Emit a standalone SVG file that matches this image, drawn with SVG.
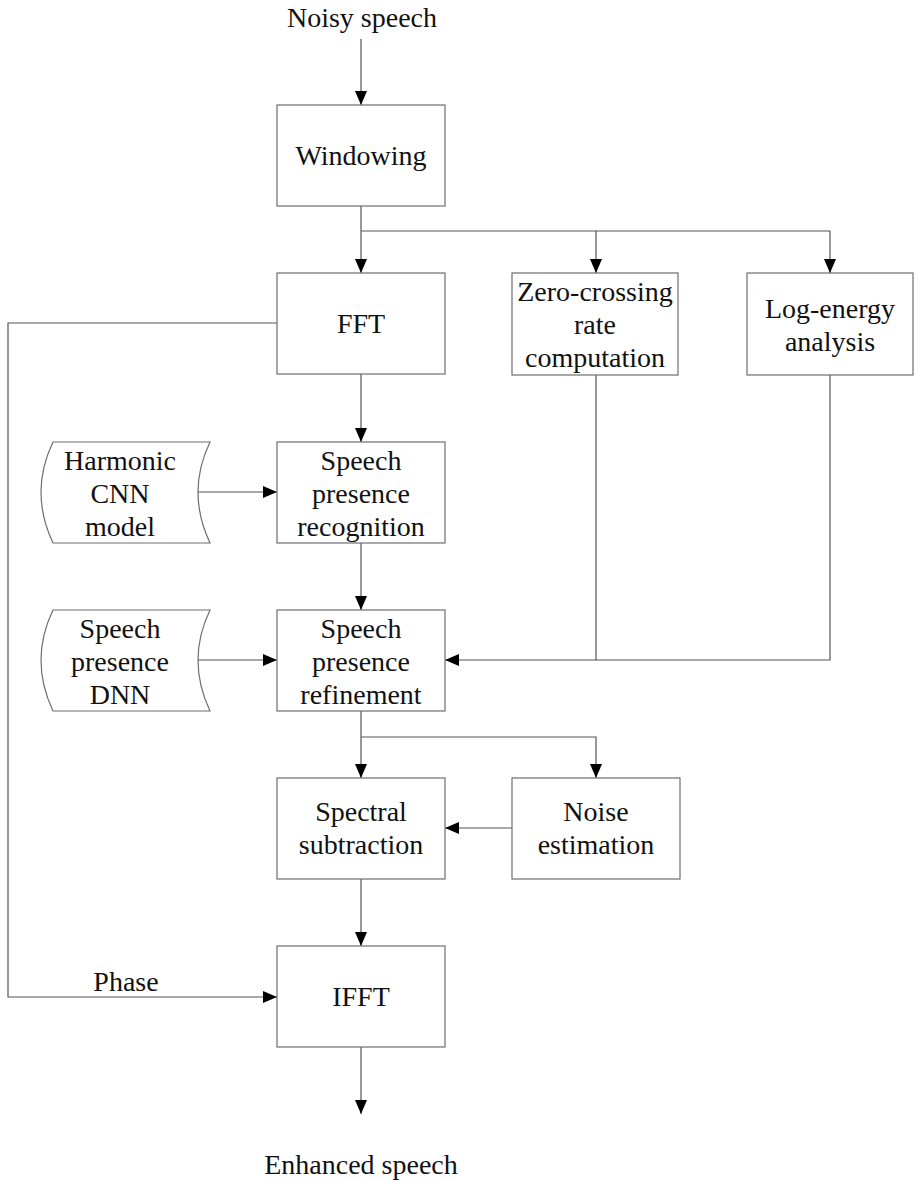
<svg xmlns="http://www.w3.org/2000/svg" width="918" height="1180" viewBox="0 0 918 1180">
<style>
.box{fill:#fff;stroke:#6e6e6e;stroke-width:1.2}
.ln{fill:none;stroke:#555;stroke-width:1.2}
text{font-size:28px;fill:#111;text-anchor:middle}
</style>
<defs>
<marker id="ar" viewBox="0 0 14 12" refX="14" refY="6" markerWidth="14" markerHeight="12" markerUnits="userSpaceOnUse" orient="auto">
<path d="M0,0 L14,6 L0,12 Z" fill="#000"/>
</marker>
</defs>
<rect width="918" height="1180" fill="#fff"/>
<g id="connectors">
<path class="ln" d="M361,39 V105" marker-end="url(#ar)"/>
<path class="ln" d="M361,206 V273" marker-end="url(#ar)"/>
<path class="ln" d="M361,231 H596 V273" marker-end="url(#ar)"/>
<path class="ln" d="M596,231 H830 V273" marker-end="url(#ar)"/>
<path class="ln" d="M361,374 V442" marker-end="url(#ar)"/>
<path class="ln" d="M198,492 H277" marker-end="url(#ar)"/>
<path class="ln" d="M361,543 V610" marker-end="url(#ar)"/>
<path class="ln" d="M198,660 H277" marker-end="url(#ar)"/>
<path class="ln" d="M596,375 V660 M830,375 V660 H445" marker-end="url(#ar)"/>
<path class="ln" d="M361,711 V778" marker-end="url(#ar)"/>
<path class="ln" d="M361,737 H596 V778" marker-end="url(#ar)"/>
<path class="ln" d="M512,828 H445" marker-end="url(#ar)"/>
<path class="ln" d="M361,879 V946" marker-end="url(#ar)"/>
<path class="ln" d="M277,323 H8 V997 H277" marker-end="url(#ar)"/>
<path class="ln" d="M361,1047 V1114" marker-end="url(#ar)"/>
</g>
<g font-family="Liberation Serif, Times New Roman, serif">
<g id="input"><text x="362" y="27">Noisy speech</text></g>
<g id="windowing"><rect class="box" x="277" y="105" width="168" height="101"/><text x="361" y="165">Windowing</text></g>
<g id="fft"><rect class="box" x="277" y="273" width="168" height="101"/><text x="361" y="333">FFT</text></g>
<g id="zcr"><rect class="box" x="512" y="273" width="166" height="102"/><text x="595" y="301">Zero-crossing</text><text x="595" y="334">rate</text><text x="595" y="367">computation</text></g>
<g id="logenergy"><rect class="box" x="747" y="273" width="166" height="102"/><text x="830" y="318">Log-energy</text><text x="830" y="351">analysis</text></g>
<g id="cnn"><path class="box" d="M53,442 H210 Q186,492 210,543 H53 Q29,492 53,442 Z"/><text x="120" y="470">Harmonic</text><text x="120" y="503">CNN</text><text x="120" y="536">model</text></g>
<g id="recognition"><rect class="box" x="277" y="442" width="168" height="101"/><text x="361" y="470">Speech</text><text x="361" y="503">presence</text><text x="361" y="536">recognition</text></g>
<g id="dnn"><path class="box" d="M53,610 H210 Q186,660 210,711 H53 Q29,660 53,610 Z"/><text x="120" y="638">Speech</text><text x="120" y="671">presence</text><text x="120" y="704">DNN</text></g>
<g id="refinement"><rect class="box" x="277" y="610" width="168" height="101"/><text x="361" y="638">Speech</text><text x="361" y="671">presence</text><text x="361" y="704">refinement</text></g>
<g id="spectral"><rect class="box" x="277" y="778" width="168" height="101"/><text x="361" y="821">Spectral</text><text x="361" y="854">subtraction</text></g>
<g id="noise"><rect class="box" x="512" y="778" width="168" height="101"/><text x="596" y="821">Noise</text><text x="596" y="854">estimation</text></g>
<g id="ifft"><rect class="box" x="277" y="946" width="168" height="101"/><text x="361" y="1006">IFFT</text></g>
<g id="phase"><text x="126" y="991">Phase</text></g>
<g id="output"><text x="361" y="1174">Enhanced speech</text></g>
</g>
</svg>
